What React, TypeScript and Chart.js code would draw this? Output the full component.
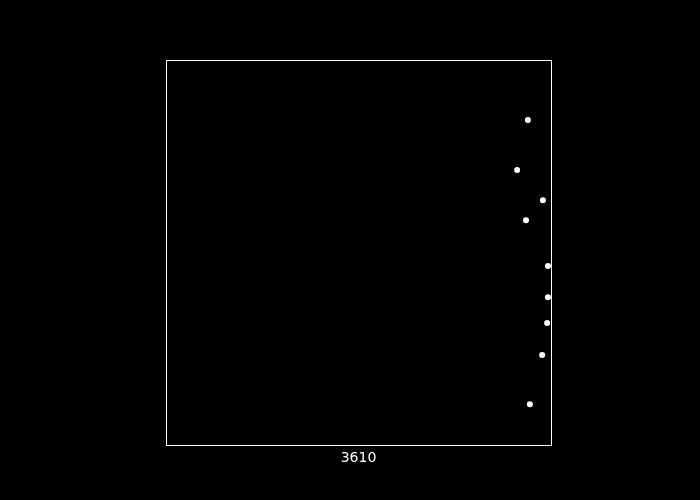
import React, { useEffect, useRef } from "react";
import { Chart, registerables } from "chart.js";

Chart.register(...registerables);

const categoryLabel = "3610";
const xValues = [94.0, 91.2, 97.9, 93.5, 99.2, 99.2, 99.0, 97.7, 94.5];
const yValues = [84.4, 71.4, 63.6, 58.4, 46.5, 38.4, 31.7, 23.4, 10.6];

const borderPlugin = {
  id: "frameBorder",
  afterDraw(chart: any) {
    const { ctx, chartArea } = chart;
    ctx.save();
    ctx.strokeStyle = "#ffffff";
    ctx.lineWidth = 1;
    ctx.strokeRect(
      Math.round(chartArea.left) + 0.5,
      Math.round(chartArea.top) + 0.5,
      Math.round(chartArea.right - chartArea.left),
      Math.round(chartArea.bottom - chartArea.top)
    );
    ctx.restore();
  },
};

export default function App() {
  const ref = useRef<HTMLCanvasElement>(null);
  useEffect(() => {
    document.body.style.margin = "0";
    document.body.style.background = "#000";
    const chart = new Chart(ref.current!, {
      type: "scatter",
      data: {
        datasets: [
          {
            data: xValues.map((x, i) => ({ x, y: yValues[i] })),
            backgroundColor: "#ffffff",
            borderWidth: 0,
            pointRadius: 3,
          },
        ],
      },
      options: {
        animation: false,
        responsive: false,
        layout: { padding: { left: 166, right: 149, top: 60, bottom: 0 } },
        plugins: { legend: { display: false }, tooltip: { enabled: false } },
        scales: {
          x: {
            type: "linear",
            min: 0,
            max: 100,
            grid: { display: false, drawTicks: false },
            border: { display: false },
            afterBuildTicks: (scale: any) => {
              scale.ticks = [{ value: 50 }];
            },
            afterFit: (scale: any) => {
              scale.height = 55;
            },
            ticks: {
              color: "#ffffff",
              font: { family: "DejaVu Sans", size: 14 },
              padding: 5,
              maxRotation: 0,
              callback: () => categoryLabel,
            },
          },
          y: {
            type: "linear",
            min: 0,
            max: 100,
            display: false,
          },
        },
      },
      plugins: [borderPlugin],
    });
    return () => chart.destroy();
  }, []);
  return (
    <div style={{ width: 700, height: 500, background: "#000" }}>
      <canvas ref={ref} width={700} height={500} />
    </div>
  );
}
